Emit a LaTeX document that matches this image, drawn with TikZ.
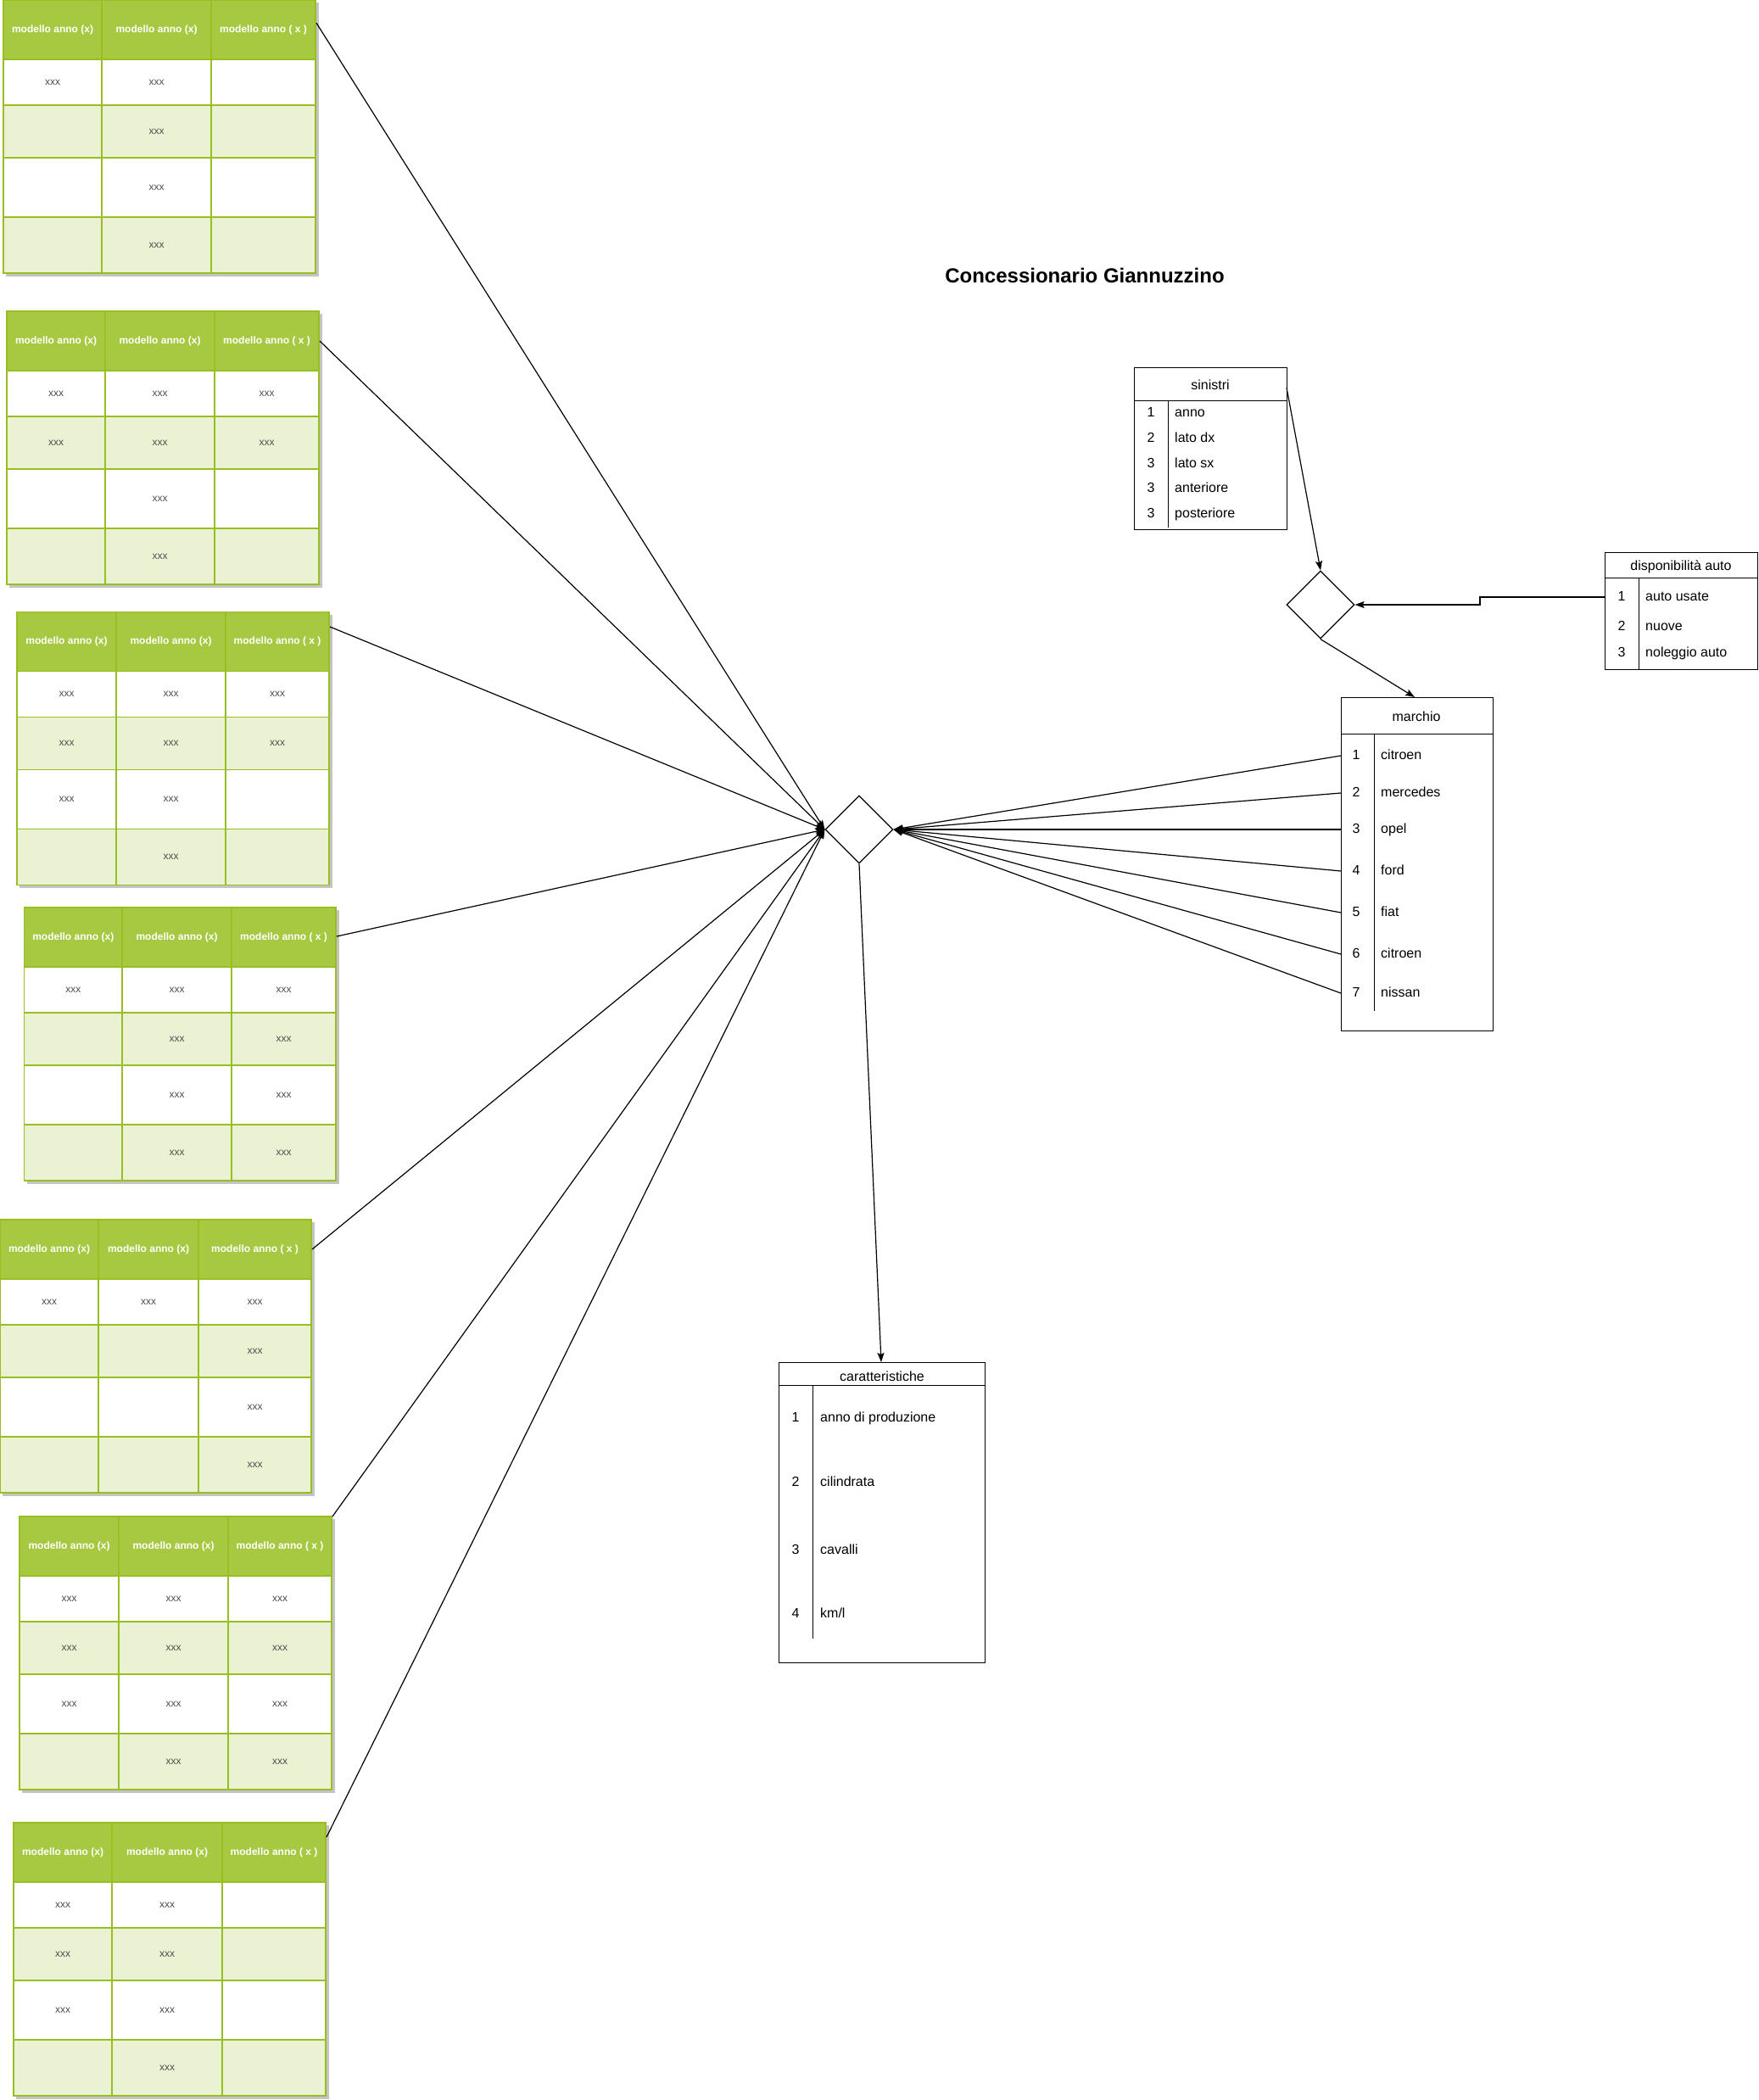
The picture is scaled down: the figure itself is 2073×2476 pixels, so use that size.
\documentclass[tikz,border=0pt]{standalone}
\usepackage{fontspec}
\setmainfont{Liberation Sans}
\usetikzlibrary{shapes.geometric,arrows.meta}
\definecolor{hdr}{HTML}{A7C942}
\definecolor{gridc}{HTML}{98BF21}
\definecolor{altrow}{HTML}{EAF2D3}
\definecolor{shad}{HTML}{C4C4C4}
\definecolor{celltxt}{HTML}{4D4D4D}
\tikzset{
  conn/.style={line width=1.2pt, -{Stealth[length=11pt,width=8pt,inset=2pt]}},
  plainline/.style={line width=1pt},
  gridline/.style={draw=gridc, line width=1.3pt},
  box/.style={draw=black, line width=1.2pt, fill=white, inner sep=0pt, anchor=north west},
  hdrtxt/.style={text=white, font=\fontsize{12}{14}\selectfont\bfseries, inner sep=0pt},
  celltext/.style={text=celltxt, font=\fontsize{12}{14}\selectfont, inner sep=0pt},
  lbl/.style={font=\fontsize{16}{19}\selectfont, inner sep=0pt},
  rowlbl/.style={lbl, yshift=-2pt},
  rel/.style={draw=black, line width=1.2pt, fill=white, shape=diamond, shape aspect=1,
    minimum width=80pt, minimum height=80pt, inner sep=0pt},
}
% name, x, y, w1, w2, w3, out-y, cells
\newcommand{\gtab}[8]{%
\begin{scope}[shift={(#2,#3)}]
  \pgfmathsetmacro\tabA{#4}
  \pgfmathsetmacro\tabB{#4+#5}
  \pgfmathsetmacro\tabW{#4+#5+#6}
  \fill[shad] (3,3) rectangle (\tabW+3.5,325.5);
  \fill[white] (0,0) rectangle (\tabW,322);
  \fill[hdr] (0,0) rectangle (\tabW,70);
  \fill[altrow] (0,124) rectangle (\tabW,186);
  \fill[altrow] (0,256) rectangle (\tabW,322);
  \foreach \yy in {70,124,186,256} {\draw[gridline] (0,\yy) -- (\tabW,\yy);}
  \draw[gridline] (\tabA,0) -- (\tabA,322);
  \draw[gridline] (\tabB,0) -- (\tabB,322);
  \draw[gridline] (0,0) rectangle (\tabW,322);
  \node[inner sep=0pt, minimum width=\tabW pt, minimum height=322pt, anchor=north west] (#1) at (0,0) {};
  \coordinate (#1-out) at (\tabW+1,#7);
  \node[hdrtxt] (#1-h1) at ({\tabA/2},35) {modello anno (x)};
  \node[hdrtxt] (#1-h2) at ({(\tabA+\tabB)/2},35) {modello anno (x)};
  \node[hdrtxt] (#1-h3) at ({(\tabB+\tabW)/2},35) {modello anno ( x )};
  \foreach \ri/\ci in {#8} {
    \pgfmathsetmacro\cyy{\ri==1 ? 97 : (\ri==2 ? 155 : (\ri==3 ? 221 : 289))}
    \pgfmathsetmacro\cxx{\ci==1 ? \tabA/2 : (\ci==2 ? (\tabA+\tabB)/2 : (\tabB+\tabW)/2)}
    \node[celltext] (#1-\ri-\ci) at (\cxx,\cyy) {xxx};
  }
\end{scope}}
\begin{document}
\begin{tikzpicture}[x=1pt,y=-1pt]
\useasboundingbox (0,0) rectangle (2073,2476);
\fill[white] (0,0) rectangle (2073,2476);

% green tables
\gtab{t1}{4}{0}{116}{129}{123}{27}{1/1,1/2,2/2,3/2,4/2}
\gtab{t2}{8}{367}{116}{129}{123}{35}{1/1,1/2,1/3,2/1,2/2,2/3,3/2,4/2}
\gtab{t3}{20}{721.5}{117}{129}{122}{17.5}{1/1,1/2,1/3,2/1,2/2,2/3,3/1,3/2,4/2}
\gtab{t4}{28.5}{1070}{115.5}{129}{123}{34}{1/1,1/2,1/3,2/2,2/3,3/2,3/3,4/2,4/3}
\gtab{t5}{0}{1438}{116}{118}{133}{35}{1/1,1/2,1/3,2/3,3/3,4/3}
\gtab{t6}{23}{1788}{117}{129}{122}{0}{1/1,1/2,1/3,2/1,2/2,2/3,3/1,3/2,3/3,4/2,4/3}
\gtab{t7}{16}{2149}{116}{130}{122}{17}{1/1,1/2,2/1,2/2,3/1,3/2,4/2}

% title
\node[font=\fontsize{24}{29}\selectfont\bfseries, inner sep=0pt, anchor=base] (title) at (1279,333) {Concessionario Giannuzzino};

% relationship diamonds
\node[rel] (hub) at (1013,978) {};
\node[rel] (sd) at (1557,713) {};

% sinistri
\node[box, minimum width=180pt, minimum height=191pt] (sin) at (1337,433) {};
\draw[plainline] (1337,472) -- (1517,472);
\draw[plainline] (1377,472) -- (1377,622);
\node[lbl] (sin-t) at (1427,454) {sinistri};
\foreach \n/\t/\yy [count=\k] in {1/anno/487, 2/lato dx/517, 3/lato sx/547, 3/anteriore/576, 3/posteriore/606} {
  \node[rowlbl, anchor=mid] (sin-n\k) at (1357,\yy) {\n};
  \node[rowlbl, anchor=mid west] (sin-r\k) at (1385,\yy) {\t};
}
\coordinate (sin-out) at (1517,457);

% disponibilita auto
\node[box, minimum width=180pt, minimum height=138pt] (disp) at (1892,651) {};
\draw[plainline] (1892,681) -- (2072,681);
\draw[plainline] (1932,681) -- (1932,789);
\node[lbl] (disp-t) at (1982,668) {disponibilità auto};
\foreach \n/\t/\yy [count=\k] in {1/auto usate/704, 2/nuove/739, 3/noleggio auto/770} {
  \node[rowlbl, anchor=mid] (disp-n\k) at (1912,\yy) {\n};
  \node[rowlbl, anchor=mid west] (disp-r\k) at (1940,\yy) {\t};
}
\coordinate (disp-out) at (1892,704);
\coordinate (bend1) at (1745,704);
\coordinate (bend2) at (1745,713);

% marchio
\node[box, minimum width=179pt, minimum height=393pt] (mar) at (1581,822) {};
\draw[plainline] (1581,865) -- (1760,865);
\draw[plainline] (1620,865) -- (1620,1192);
\node[lbl] (mar-t) at (1670,845) {marchio};
\foreach \n/\t/\yy in {1/citroen/891, 2/mercedes/935, 3/opel/978, 4/ford/1027, 5/fiat/1076, 6/citroen/1125, 7/nissan/1171} {
  \node[rowlbl, anchor=mid] (mar-n\n) at (1599,\yy) {\n};
  \node[rowlbl, anchor=mid west] (mar-r\n) at (1628,\yy) {\t};
  \coordinate (mar-in\n) at (1581,\yy);
}
\coordinate (mar-top) at (1668,822);

% caratteristiche
\node[box, minimum width=243pt, minimum height=354pt] (car) at (918,1606) {};
\draw[plainline] (918,1633) -- (1161,1633);
\draw[plainline] (958,1633) -- (958,1932);
\node[lbl] (car-t) at (1040,1623) {caratteristiche};
\foreach \n/\t/\yy in {1/anno di produzione/1672, 2/cilindrata/1748, 3/cavalli/1828, 4/km\slash l/1903} {
  \node[rowlbl, anchor=mid] (car-n\n) at (938,\yy) {\n};
  \node[rowlbl, anchor=mid west] (car-r\n) at (967,\yy) {\t};
}
\coordinate (car-top) at (1039,1606);

% connectors from tables to hub
\foreach \tb in {t1,t2,t3,t4,t5,t6,t7} {
  \draw[conn] (\tb-out) -- (hub.west);
}
% connectors from marchio to hub
\foreach \n in {1,...,7} {
  \draw[conn] (mar-in\n) -- (hub.east);
}
% other connectors
\draw[conn] (hub.south) -- (car-top);
\draw[conn] (sin-out) -- (sd.north);
\draw[conn] (disp-out) -- (bend1) -- (bend2) -- (sd.east);
\draw[conn] (sd.south) -- (mar-top);
\end{tikzpicture}
\end{document}
